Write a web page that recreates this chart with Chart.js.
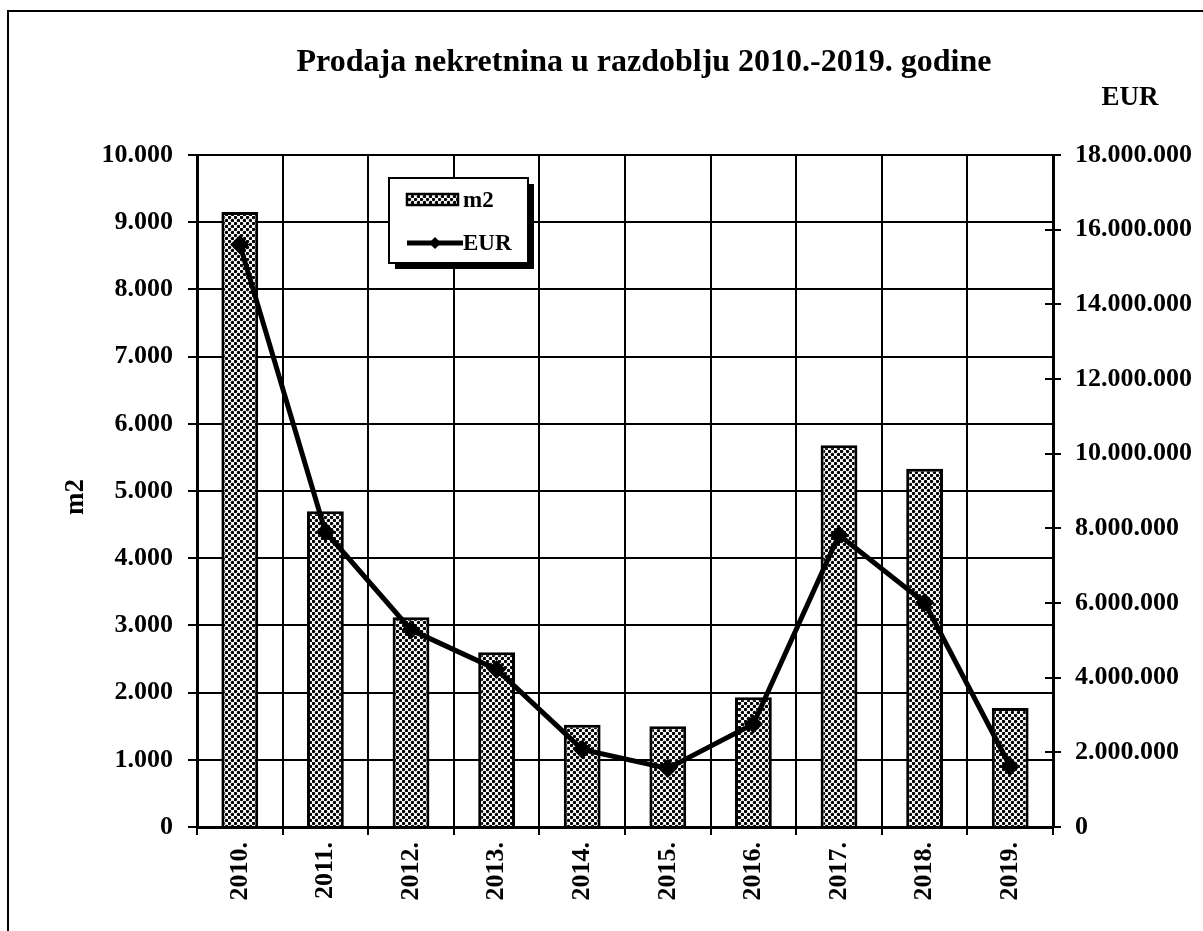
<!DOCTYPE html>
<html>
<head>
<meta charset="utf-8">
<title>Prodaja nekretnina</title>
<script src="https://cdn.jsdelivr.net/npm/chart.js@4.4.1/dist/chart.umd.min.js"></script>
<style>
  html, body { margin: 0; padding: 0; background: #fff; }
  #wrap { position: relative; width: 1203px; height: 931px; overflow: hidden; }
  canvas { display: block; }
</style>
</head>
<body>
<div id="wrap"><canvas id="chart" width="1203" height="931"></canvas></div>
<script>
// Years on the category axis
const years = ['2010.', '2011.', '2012.', '2013.', '2014.', '2015.', '2016.', '2017.', '2018.', '2019.'];
// Sold area in square metres (bars, left axis)
const areaM2 = [9150, 4700, 3120, 2600, 1520, 1500, 1930, 5680, 5330, 1770];
// Sales value in euros (line, right axis)
const valueEur = [15600000, 7910000, 5280000, 4220000, 2080000, 1570000, 2760000, 7820000, 6010000, 1620000];
// Tick labels for both value axes
const m2TickLabels = ['0', '1.000', '2.000', '3.000', '4.000', '5.000', '6.000', '7.000', '8.000', '9.000', '10.000'];
const eurTickLabels = ['0', '2.000.000', '4.000.000', '6.000.000', '8.000.000', '10.000.000', '12.000.000', '14.000.000', '16.000.000', '18.000.000'];

const chartTitle = 'Prodaja nekretnina u razdoblju 2010.-2019. godine';
const leftAxisTitle = 'm2';
const rightAxisTitle = 'EUR';

const SERIF = "'Liberation Serif', 'Times New Roman', Times, serif";

const canvas = document.getElementById('chart');
const ctx = canvas.getContext('2d');

// Halftone-style dotted fill for the bars
function makeDotPattern() {
  const tile = document.createElement('canvas');
  tile.width = 6; tile.height = 6;
  const g = tile.getContext('2d');
  g.fillStyle = '#fff';
  g.fillRect(0, 0, 6, 6);
  g.fillStyle = '#000';
  g.beginPath(); g.arc(1.5, 1.5, 1.7, 0, Math.PI * 2); g.fill();
  g.beginPath(); g.arc(4.5, 4.5, 1.7, 0, Math.PI * 2); g.fill();
  return ctx.createPattern(tile, 'repeat');
}
const dots = makeDotPattern();

// Page frame, titles and the boxed legend
const decorations = {
  id: 'decorations',
  beforeDraw(chart) {
    const c = chart.ctx;
    c.save();
    c.fillStyle = '#fff';
    c.fillRect(0, 0, chart.width, chart.height);
    c.strokeStyle = '#000';
    c.lineWidth = 2;
    c.beginPath();
    c.moveTo(8, chart.height + 5);
    c.lineTo(8, 11);
    c.lineTo(chart.width + 5, 11);
    c.stroke();
    c.restore();
  },
  afterDatasetsDraw(chart) {
    // inward half of the right axis ticks
    const c = chart.ctx;
    const s = chart.scales.y1;
    c.save();
    c.strokeStyle = '#000';
    c.lineWidth = 2;
    s.ticks.forEach((t, i) => {
      const y = Math.round(s.getPixelForTick(i));
      c.beginPath();
      c.moveTo(s.left - 8, y);
      c.lineTo(s.left, y);
      c.stroke();
    });
    c.restore();
  },
  afterDraw(chart) {
    const c = chart.ctx;
    const area = chart.chartArea;
    c.save();
    c.fillStyle = '#000';
    c.textAlign = 'center';
    c.textBaseline = 'alphabetic';
    c.font = 'bold 32px ' + SERIF;
    c.fillText(chartTitle, 644, 71);
    c.font = 'bold 27px ' + SERIF;
    c.fillText(rightAxisTitle, 1130, 105);

    c.save();
    c.translate(76, (area.top + area.bottom) / 2 + 6);
    c.rotate(-Math.PI / 2);
    c.textBaseline = 'middle';
    c.fillText(leftAxisTitle, 0, 0);
    c.restore();

    // legend box with drop shadow
    const lx = 389, ly = 178, lw = 139, lh = 85;
    c.fillStyle = '#000';
    c.fillRect(lx + 6, ly + 6, lw, lh);
    c.fillStyle = '#fff';
    c.fillRect(lx, ly, lw, lh);
    c.strokeStyle = '#000';
    c.lineWidth = 2;
    c.strokeRect(lx, ly, lw, lh);

    const barDs = chart.data.datasets[1];
    const lineDs = chart.data.datasets[0];
    // bar swatch
    c.fillStyle = barDs.backgroundColor;
    c.fillRect(407, 194, 51, 11);
    c.lineWidth = 2.5;
    c.strokeRect(407, 194, 51, 11);
    // line swatch
    c.strokeStyle = lineDs.borderColor;
    c.lineWidth = 5;
    c.beginPath();
    c.moveTo(407, 243);
    c.lineTo(463, 243);
    c.stroke();
    c.fillStyle = '#000';
    c.beginPath();
    c.moveTo(435, 237); c.lineTo(441, 243); c.lineTo(435, 249); c.lineTo(429, 243);
    c.closePath(); c.fill();

    c.font = 'bold 23px ' + SERIF;
    c.textAlign = 'left';
    c.textBaseline = 'middle';
    c.fillStyle = '#000';
    c.fillText(barDs.label, 463, 201);
    c.fillText(lineDs.label, 463, 244);
    c.restore();
  }
};

const tickFont = { family: SERIF, size: 26, weight: 'bold' };

new Chart(ctx, {
  type: 'bar',
  data: {
    labels: years,
    datasets: [
      {
        type: 'line',
        label: 'EUR',
        data: valueEur,
        yAxisID: 'y1',
        borderColor: '#000',
        backgroundColor: '#000',
        borderWidth: 5,
        tension: 0,
        pointStyle: 'rectRot',
        pointRadius: 6,
        pointBackgroundColor: '#000',
        pointBorderColor: '#000',
        order: 0
      },
      {
        type: 'bar',
        label: 'm2',
        data: areaM2,
        yAxisID: 'y',
        backgroundColor: dots,
        borderColor: '#000',
        borderWidth: 3,
        categoryPercentage: 1,
        barPercentage: 0.43,
        order: 1
      }
    ]
  },
  options: {
    responsive: false,
    animation: false,
    devicePixelRatio: 1,
    layout: { padding: { top: 155, left: 0, right: 0, bottom: 0 } },
    plugins: {
      legend: { display: false },
      title: { display: false },
      tooltip: { enabled: false }
    },
    scales: {
      x: {
        offset: true,
        grid: { offset: true, color: '#000', lineWidth: 2, tickLength: 8, tickColor: '#000' },
        border: { display: true, color: '#000', width: 3 },
        ticks: { color: '#000', font: tickFont, minRotation: 90, maxRotation: 90, padding: 7 },
        afterFit(scale) { scale.height = 931 - 827; }
      },
      y: {
        position: 'left',
        min: 0, max: 10000,
        grid: { color: '#000', lineWidth: 2, tickLength: 9, tickColor: '#000' },
        border: { display: true, color: '#000', width: 3 },
        ticks: {
          stepSize: 1000,
          color: '#000',
          font: tickFont,
          padding: 15,
          callback: (v, i) => m2TickLabels[i]
        },
        afterFit(scale) { scale.width = 197; }
      },
      y1: {
        position: 'right',
        min: 0, max: 18000000,
        grid: { drawOnChartArea: false, color: '#000', lineWidth: 2, tickLength: 8, tickColor: '#000' },
        border: { display: true, color: '#000', width: 3 },
        ticks: {
          stepSize: 2000000,
          color: '#000',
          font: tickFont,
          padding: 14,
          callback: (v, i) => eurTickLabels[i]
        },
        afterFit(scale) { scale.width = 1203 - 1053; }
      }
    }
  },
  plugins: [decorations]
});
</script>
</body>
</html>
